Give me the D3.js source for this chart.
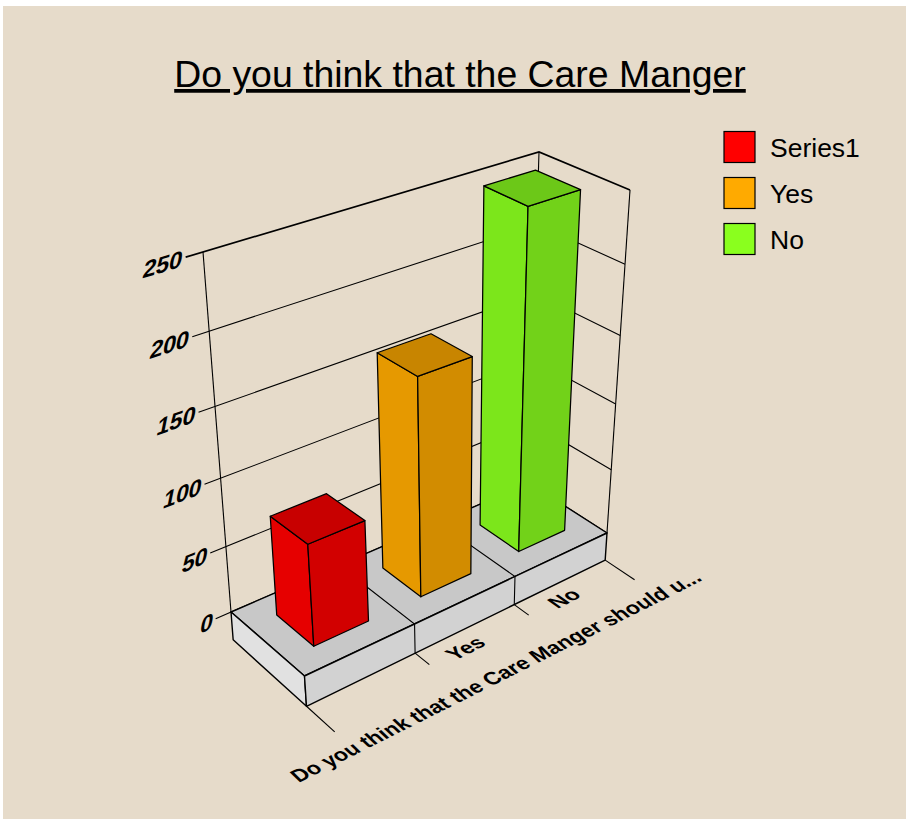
<!DOCTYPE html>
<html><head><meta charset="utf-8">
<script src="https://cdn.jsdelivr.net/npm/d3@7"></script>
<style>
html,body{margin:0;padding:0;background:#fff}
svg{display:block}
text{font-family:"Liberation Sans",Arial,sans-serif;fill:#000}
</style></head><body><div id="c"></div>
<script>
const categories = ["Do you think that the Care Manger should u...", "Yes", "No"];
const seriesNames = ["Series1", "Yes", "No"];
const seriesValues = [74, 160, 249];
const seriesColors = ["#ff0000", "#ffaa00", "#8aff1e"];
const chartTitle = "Do you think that the Care Manger";

const W = 906, H = 819, maxV = 250, slabV = -22;
const svg = d3.select("#c").append("svg").attr("width", W).attr("height", H);
svg.append("rect").attr("x", 3).attr("y", 6).attr("width", W - 3).attr("height", H - 6).attr("fill", "#e6dbca");

// projection calibration: floor quad and top quad of the plot box (FL, FR, BR, BL), and the
// foreshortening ratio of the verticals at those corners
const floorQuad = [[304.5, 676], [607, 533], [529, 483], [231, 612]];
const topQuad = [[280, 304], [630, 190], [539, 152], [203, 252]];
const cornerRatio = [0.93, 0.905, 0.895, 0.887];
function homog(q) {
  const [[x0, y0], [x1, y1], [x2, y2], [x3, y3]] = q;
  const dx1 = x1 - x2, dx2 = x3 - x2, sx = x0 - x1 + x2 - x3, dy1 = y1 - y2, dy2 = y3 - y2, sy = y0 - y1 + y2 - y3;
  const den = dx1 * dy2 - dx2 * dy1;
  const g = (sx * dy2 - dx2 * sy) / den, h = (dx1 * sy - sx * dy1) / den;
  return (u, v) => {
    const w = g * u + h * v + 1;
    return [((x1 - x0 + g * x1) * u + (x3 - x0 + h * x3) * v + x0) / w,
            ((y1 - y0 + g * y1) * u + (y3 - y0 + h * y3) * v + y0) / w];
  };
}
const H0 = homog(floorQuad), H1 = homog(topQuad);

const xS = d3.scaleBand().domain(categories).range([0, 1]).paddingInner(0.5).paddingOuter(0.25);
const xCell = d3.scaleLinear().domain([0, categories.length]).range([0, 1]);
const yS = d3.scaleLinear().domain([0, maxV]).range([0, 1]);
function P(x, v, z) {
  const t = yS(v), a = H0(x, z), b = H1(x, z);
  const [r0, r1, r2, r3] = cornerRatio;
  const r = (1 - x) * (1 - z) * r0 + x * (1 - z) * r1 + x * z * r2 + (1 - x) * z * r3;
  const f = r * t / (1 - t + r * t);
  return [a[0] + f * (b[0] - a[0]), a[1] + f * (b[1] - a[1])];
}
const path = pts => "M" + pts.map(p => p.map(n => n.toFixed(2)).join(",")).join("L") + "Z";
const line = pts => "M" + pts.map(p => p.map(n => n.toFixed(2)).join(",")).join("L");
const root = svg.append("g");
const face = (pts, fill, sw = 1.25) => root.append("path").attr("d", path(pts)).attr("fill", fill).attr("stroke", "#000").attr("stroke-width", sw).attr("stroke-linejoin", "round");
const seg = (pts, sw = 1.1) => root.append("path").attr("d", line(pts)).attr("fill", "none").attr("stroke", "#000").attr("stroke-width", sw);

// walls
const ticks = yS.ticks(5);
ticks.forEach(v => {
  seg([P(-0.045, v, 1), P(1, v, 1), P(1, v, 0)], v === maxV ? 1.7 : 1.1);
});
seg([P(0, 0, 1), P(0, maxV, 1)]);
seg([P(1, 0, 1), P(1, maxV, 1)]);
seg([P(1, 0, 0), P(1, maxV, 0)]);

// base slab
face([P(0, 0, 0), P(1, 0, 0), P(1, 0, 1), P(0, 0, 1)], "#c8c8c8", 1.4);
face([P(0, 0, 1), P(0, 0, 0), P(0, slabV, 0), P(0, slabV, 1)], "#e1e1e1", 1.4);
face([P(0, 0, 0), P(1, 0, 0), P(1, slabV, 0), P(0, slabV, 0)], "#d2d2d2", 1.4);
d3.range(categories.length + 1).forEach(i => {
  const x = xCell(i), inner = i > 0 && i < categories.length;
  if (inner) seg([P(x, 0, 1), P(x, 0, 0), P(x, slabV, 0)]);
  seg([P(x, slabV, 0), P(x, slabV, inner ? -0.18 : -0.36)]);
});

// bars
const zA = 0.25, zB = 0.75;
seriesValues.forEach((v, i) => {
  const a = xS(categories[i]), b = a + xS.bandwidth();
  const col = d3.rgb(seriesColors[i]);
  const sh = k => d3.rgb(col.r * k, col.g * k, col.b * k).formatHex();
  face([P(a, 0, zB), P(a, 0, zA), P(a, v, zA), P(a, v, zB)], sh(0.9));
  face([P(a, 0, zA), P(b, 0, zA), P(b, v, zA), P(a, v, zA)], sh(0.825));
  face([P(a, v, zA), P(b, v, zA), P(b, v, zB), P(a, v, zB)], sh(0.785));
});

// value labels, laid along the gridline direction
ticks.forEach(v => {
  const p = P(-0.06, v, 1), q = P(0.1, v, 1);
  const dx = q[0] - p[0], dy = q[1] - p[1], l = Math.hypot(dx, dy), ca = dx / l, sa = dy / l;
  root.append("text").text(d3.format("d")(v))
    .attr("text-anchor", "end").attr("font-size", 24.5).attr("font-weight", "bold")
    .attr("transform", `matrix(${ca},${sa},-0.2,1,${p[0] + 1},${p[1] + 8})`);
});

// category labels
const labelU = [-0.166, 0.447, 0.79], labelZ = [-0.64, -0.265, -0.262], labelAnchor = ["start", "middle", "middle"];
categories.forEach((c, i) => {
  const x = labelU[i], z = labelZ[i];
  const p = P(x, slabV, z), q = P(x + 0.1, slabV, -0.25), o = P(x, slabV, -0.25), r = P(x, slabV, z + 0.1);
  const ux = q[0] - o[0], uy = q[1] - o[1], ul = Math.hypot(ux, uy);
  const vx = r[0] - p[0], vy = r[1] - p[1], vl = Math.hypot(vx, vy);
  root.append("text").text(c).attr("text-anchor", labelAnchor[i])
    .attr("font-size", 21).attr("font-weight", "bold")
    .attr("transform", `matrix(${ux / ul},${uy / ul},${-vx / vl},${-vy / vl},${p[0]},${p[1]})`);
});

// title
root.append("text").text(chartTitle).attr("x", 460).attr("y", 87).attr("text-anchor", "middle")
  .attr("font-size", 37.4).attr("text-decoration", "underline").style("text-decoration-skip-ink", "none");

// legend
const ly = d3.scalePoint().domain(seriesNames.map((d, i) => i)).range([131.5, 223.5]);
seriesNames.forEach((n, i) => {
  root.append("rect").attr("x", 724).attr("y", ly(i)).attr("width", 31).attr("height", 31)
    .attr("fill", seriesColors[i]).attr("stroke", "#000").attr("stroke-width", 1.2);
  root.append("text").text(n).attr("x", 770).attr("y", ly(i) + 25).attr("font-size", 26.5);
});
</script></body></html>
